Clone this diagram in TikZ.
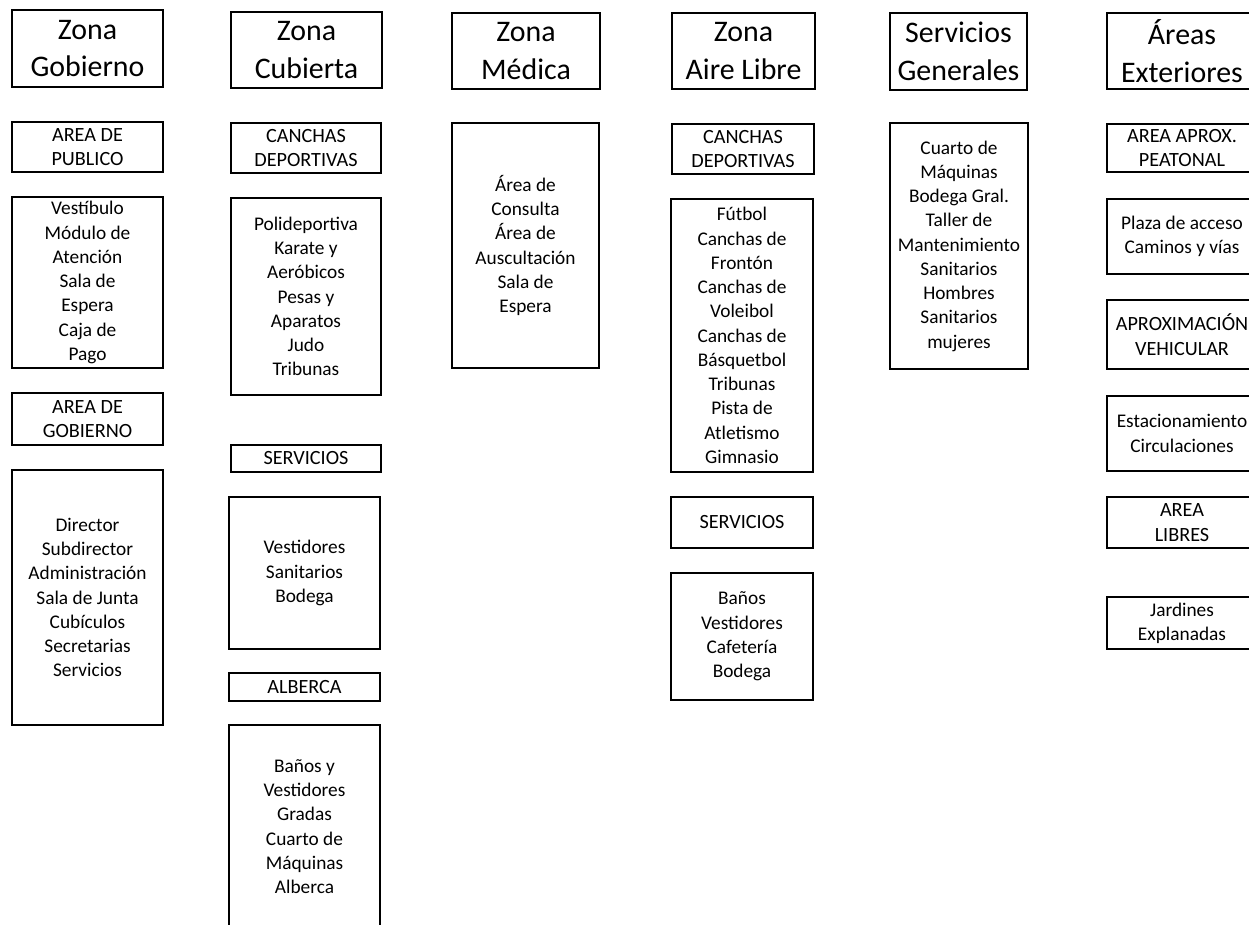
\documentclass[tikz,border=0pt]{standalone}
\usepackage{fontspec}
\setmainfont{Carlito}
\usepackage{tikz}

\begin{document}
\begin{tikzpicture}[x=0.02cm,y=-0.02cm,
  caja/.style={draw,line width=1.2pt,inner sep=0pt,align=center},
  tam/.style 2 args={minimum width=#1cm,minimum height=#2cm},
  titulo/.style={caja,font=\fontsize{17}{21.5}\selectfont},
  rotulo/.style={caja,font=\fontsize{11.5}{14}\selectfont},
  lista/.style={caja,font=\fontsize{11}{13.8}\selectfont}]
\useasboundingbox (0,0) rectangle (1249,925);
\clip (0,0) rectangle (1249,925);
\node[titulo,tam={3.02}{1.54}] (gobTit) at (87.5,48.5) {Zona\\Gobierno};
\node[rotulo,tam={3.02}{1.0}] (gobPub) at (87.5,147) {AREA DE\\PUBLICO};
\node[lista,tam={3.02}{3.42}] (gobPubLista) at (87.5,282.5) {Vestíbulo\\Módulo de\\Atención\\Sala de\\Espera\\Caja de\\Pago};
\node[rotulo,tam={3.02}{1.04}] (gobGob) at (87.5,419) {AREA DE\\GOBIERNO};
\node[lista,tam={3.02}{5.1}] (gobGobLista) at (87.5,597.5) {Director\\Subdirector\\Administración\\Sala de Junta\\Cubículos\\Secretarias\\Servicios};
\node[titulo,tam={3.02}{1.52}] (cubTit) at (306.5,50) {Zona\\Cubierta};
\node[rotulo,tam={3.0}{1.0}] (cubCan) at (306,148) {CANCHAS\\DEPORTIVAS};
\node[lista,tam={3.0}{3.94}] (cubCanLista) at (306,296.5) {Polideportiva\\Karate y\\Aeróbicos\\Pesas y\\Aparatos\\Judo\\Tribunas};
\node[rotulo,tam={3.0}{0.54}] (cubSer) at (306,458.5) {SERVICIOS};
\node[lista,tam={3.02}{3.04}] (cubSerLista) at (304.5,573) {Vestidores\\Sanitarios\\Bodega};
\node[rotulo,tam={3.02}{0.56}] (cubAlb) at (304.5,687) {ALBERCA};
\node[lista,tam={3.02}{4.06}] (cubAlbLista) at (304.5,826.5) {Baños y\\Vestidores\\Gradas\\Cuarto de\\Máquinas\\Alberca};
\node[titulo,tam={2.96}{1.52}] (medTit) at (526,51) {Zona\\Médica};
\node[lista,tam={2.94}{4.9}] (medLista) at (525.5,245.5) {Área de\\Consulta\\Área de\\Auscultación\\Sala de\\Espera};
\node[titulo,tam={2.86}{1.52}] (aireTit) at (743.5,51) {Zona\\Aire Libre};
\node[rotulo,tam={2.84}{1.0}] (aireCan) at (743,149) {CANCHAS\\DEPORTIVAS};
\node[lista,tam={2.84}{5.46}] (aireCanLista) at (742,335.5) {Fútbol\\Canchas de\\Frontón\\Canchas de\\Voleibol\\Canchas de\\Básquetbol\\Tribunas\\Pista de\\Atletismo\\Gimnasio};
\node[rotulo,tam={2.84}{1.02}] (aireSer) at (742,522.5) {SERVICIOS};
\node[lista,tam={2.84}{2.54}] (aireSerLista) at (742,636.5) {Baños\\Vestidores\\Cafetería\\Bodega};
\node[titulo,tam={2.74}{1.54}] (genTit) at (958.5,51.5) {Servicios\\Generales};
\node[lista,tam={2.76}{4.92}] (genLista) at (959,246) {Cuarto de\\Máquinas\\Bodega Gral.\\Taller de\\Mantenimiento\\Sanitarios\\Hombres\\Sanitarios\\mujeres};
\node[titulo,tam={3.0}{1.52}] (extTit) at (1182,51) {Áreas\\Exteriores};
\node[rotulo,tam={3.0}{0.96}] (extPea) at (1182,148) {AREA APROX.\\PEATONAL};
\node[lista,tam={3.0}{1.5}] (extPeaLista) at (1182,236.5) {Plaza de acceso\\Caminos y vías};
\node[rotulo,tam={3.0}{1.38}] (extVeh) at (1182,334.5) {APROXIMACIÓN\\VEHICULAR};
\node[lista,tam={3.0}{1.5}] (extVehLista) at (1182,433.5) {Estacionamiento\\Circulaciones};
\node[rotulo,tam={3.0}{1.02}] (extLib) at (1182,522.5) {AREA\\LIBRES};
\node[lista,tam={3.0}{1.04}] (extLibLista) at (1182,623) {Jardines\\Explanadas};
\end{tikzpicture}
\end{document}
